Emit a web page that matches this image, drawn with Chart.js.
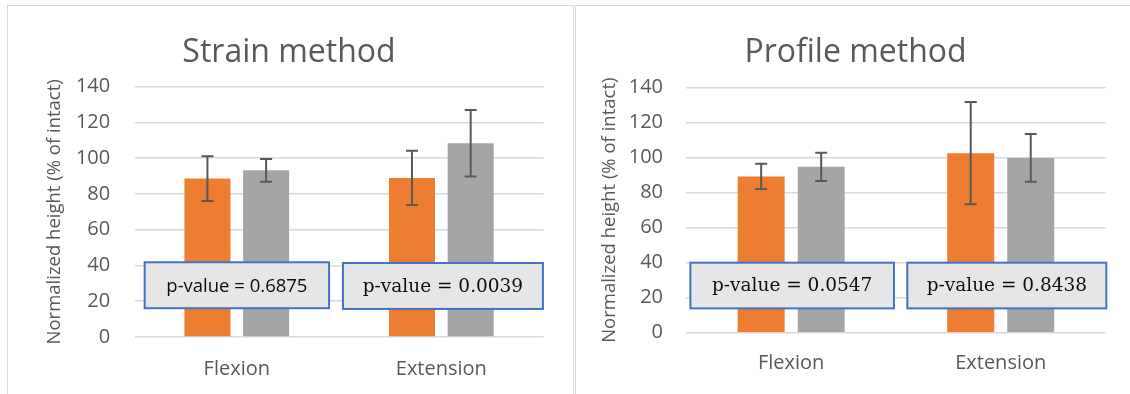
<!DOCTYPE html>
<html><head><meta charset="utf-8">
<script src="https://cdn.jsdelivr.net/npm/chart.js@4/dist/chart.umd.min.js"></script>
<style>
html,body{margin:0;padding:0;background:#fff;overflow:hidden;width:1130px;height:394px}
.panel{position:absolute;top:5px;border:1px solid #d9d9d9;height:400px;background:#fff}
#p1{left:7px;width:565px}
#p2{left:575px;width:570px}
canvas{display:block}
</style></head><body>
<div class="panel" id="p1"><canvas id="c1" width="565" height="388"></canvas></div>
<div class="panel" id="p2"><canvas id="c2" width="560" height="388"></canvas></div>
<script>
// ---- data ----
const categories = ['Flexion', 'Extension'];
const yTickValues = [0, 20, 40, 60, 80, 100, 120, 140];
const strainOrange = [88.6, 89.0];
const strainOrangeErr = [12.5, 15.2];
const strainGray = [93.2, 108.4];
const strainGrayErr = [6.3, 18.6];
const profileOrange = [89.3, 102.6];
const profileOrangeErr = [7.2, 29.2];
const profileGray = [94.8, 99.9];
const profileGrayErr = [8.1, 13.6];
const strainP = ['0.6875', '0.0039'];
const profileP = ['0.0547', '0.8438'];
const titles = ['Strain method', 'Profile method'];
const yTitle = 'Normalized height (% of intact)';

const TEXT = '#595959';
const SANS = "'Open Sans', 'Liberation Sans', sans-serif";
const SERIF = "'DejaVu Serif', 'Liberation Serif', serif";

const errorBarsPlugin = {
  id: 'errorBars',
  afterDatasetsDraw(chart) {
    const ctx = chart.ctx, y = chart.scales.y;
    ctx.save();
    ctx.strokeStyle = '#595959';
    ctx.lineWidth = 2;
    chart.data.datasets.forEach((ds, d) => {
      const meta = chart.getDatasetMeta(d);
      meta.data.forEach((bar, i) => {
        const v = ds.data[i], e = ds.errors[i];
        const yt = y.getPixelForValue(v + e), yb = y.getPixelForValue(v - e);
        const x = bar.x, cap = 6;
        ctx.beginPath();
        ctx.moveTo(x, yt); ctx.lineTo(x, yb);
        ctx.moveTo(x - cap, yt); ctx.lineTo(x + cap, yt);
        ctx.moveTo(x - cap, yb); ctx.lineTo(x + cap, yb);
        ctx.stroke();
      });
    });
    ctx.restore();
  }
};

const pBoxPlugin = {
  id: 'pBoxes',
  afterDraw(chart, args, opts) {
    const ctx = chart.ctx, xs = chart.scales.x, ys = chart.scales.y;
    ctx.save();
    opts.boxes.forEach((b, i) => {
      const cx = xs.getPixelForValue(i);
      const l = cx + b.dx1, r = cx + b.dx2;
      const t = ys.getPixelForValue(b.y1), bt = ys.getPixelForValue(b.y2);
      ctx.fillStyle = '#e7e6e6';
      ctx.fillRect(l, t, r - l, bt - t);
      ctx.strokeStyle = '#4472c4';
      ctx.lineWidth = 2;
      ctx.strokeRect(l, t, r - l, bt - t);
      ctx.fillStyle = '#0d0d0d';
      ctx.font = b.font;
      ctx.textAlign = 'center';
      ctx.textBaseline = 'middle';
      ctx.fillText('p-value = ' + opts.values[i], (l + r) / 2, (t + bt) / 2 + 1);
    });
    ctx.restore();
  }
};

const titlePlugin = {
  id: 'panelTitle',
  afterDraw(chart, args, opts) {
    const ctx = chart.ctx;
    ctx.save();
    ctx.fillStyle = TEXT;
    ctx.font = "32px " + SANS;
    ctx.textAlign = 'center';
    ctx.textBaseline = 'alphabetic';
    ctx.fillText(opts.text, opts.x, opts.y);
    ctx.restore();
  }
};

function makeChart(id, cfg) {
  return new Chart(document.getElementById(id), {
    type: 'bar',
    data: {
      labels: categories,
      datasets: [
        { data: cfg.a, errors: cfg.aErr, backgroundColor: '#ed7d31',
          categoryPercentage: cfg.cp, barPercentage: cfg.bp },
        { data: cfg.b, errors: cfg.bErr, backgroundColor: '#a5a5a5',
          categoryPercentage: cfg.cp, barPercentage: cfg.bp }
      ]
    },
    plugins: [errorBarsPlugin, pBoxPlugin, titlePlugin],
    options: {
      responsive: false,
      animation: false,
      layout: { padding: { top: cfg.top, right: cfg.right, bottom: 0, left: 0 } },
      plugins: {
        legend: { display: false },
        tooltip: { enabled: false },
        title: { display: false },
        panelTitle: { text: cfg.title, x: cfg.titleX, y: cfg.titleY },
        pBoxes: { values: cfg.p, boxes: cfg.boxes }
      },
      scales: {
        x: {
          grid: { display: false },
          border: { display: false },
          ticks: { color: TEXT, font: { family: SANS, size: 20 }, padding: cfg.xPad },
          afterFit(s) { s.height = cfg.xH; }
        },
        y: {
          min: 0, max: 140,
          afterBuildTicks(s) { s.ticks = yTickValues.map(v => ({ value: v })); },
          grid: { color: '#d9d9d9', lineWidth: 1.5, drawTicks: false },
          border: { display: false },
          ticks: { color: TEXT, font: { family: SANS, size: 20 }, padding: cfg.yPad },
          title: { display: true, text: yTitle, color: TEXT,
                   font: { family: SANS, size: 18.5 }, padding: { top: cfg.yTitlePad, bottom: 0 } },
          afterFit(s) { s.width = cfg.yW; }
        }
      }
    }
  });
}

makeChart('c1', {
  a: strainOrange, aErr: strainOrangeErr, b: strainGray, bErr: strainGrayErr,
  p: strainP, title: titles[0], titleX: 281, titleY: 55.7,
  cp: 0.574, bp: 0.784, top: 80.7, right: 29.4, xH: 57, xPad: 12,
  yW: 126.5, yPad: 24.3, yTitlePad: 35.4,
  boxes: [
    { dx1: -92.1, dx2: 92.3, y1: 41.8, y2: 16.1, font: "18.5px " + SANS },
    { dx1: -98.4, dx2: 101.6, y1: 41.4, y2: 15.7, font: "18.5px " + SERIF }
  ]
});

makeChart('c2', {
  a: profileOrange, aErr: profileOrangeErr, b: profileGray, bErr: profileGrayErr,
  p: profileP, title: titles[1], titleX: 279.5, titleY: 55.7,
  cp: 0.573, bp: 0.783, top: 81.7, right: 30.5, xH: 61.3, xPad: 11,
  yW: 110.4, yPad: 23.4, yTitlePad: 22.9,
  boxes: [
    { dx1: -100.8, dx2: 102.8, y1: 40, y2: 13.9, font: "18.5px " + SERIF },
    { dx1: -93.4, dx2: 105.6, y1: 40, y2: 13.9, font: "18.5px " + SERIF }
  ]
});
</script>
</body></html>
